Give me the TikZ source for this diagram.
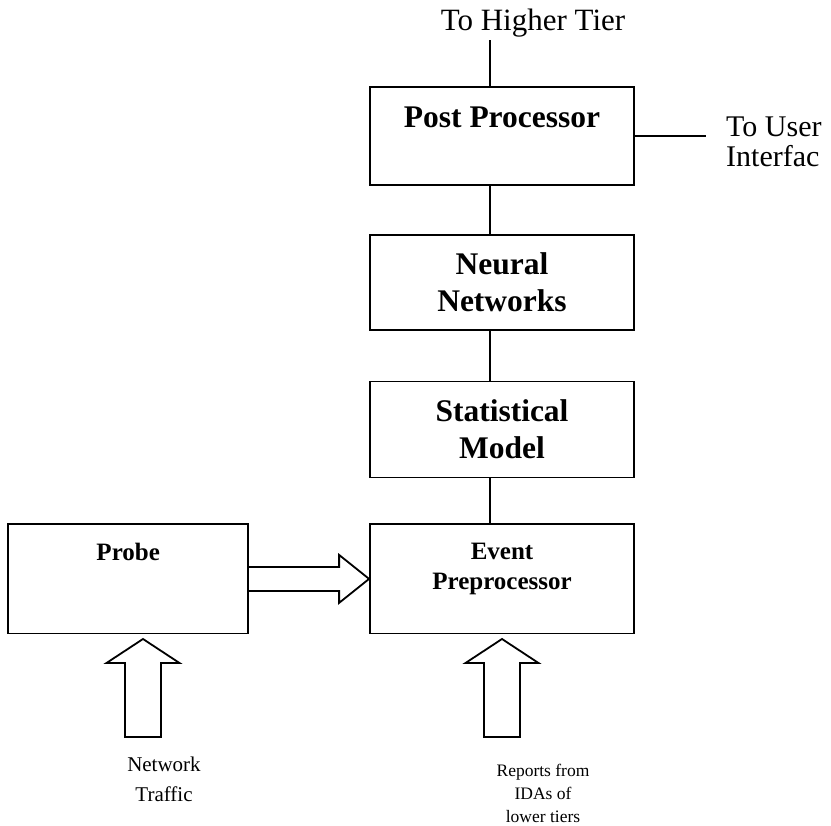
\documentclass[tikz,border=0pt]{standalone}
\usepackage{fontspec}
\setmainfont{Liberation Serif}
\usetikzlibrary{positioning}
\tikzset{
  block/.style={
    draw,
    line width=1.8pt,
    minimum width=264pt,
    minimum height={#1},
    inner sep=0pt,
    align=center,
    font=\fontsize{31.5}{37}\bfseries\selectfont,
  },
  title/.style={
    inner sep=0pt,
    align=center,
    font=\fontsize{#1}{30}\bfseries\selectfont,
  },
  caption/.style 2 args={
    inner sep=0pt,
    align=center,
    font=\fontsize{#1}{#2}\selectfont,
  },
  link/.style={line width=1.8pt},
  fat/.style={line width=1.8pt, line join=miter},
}

\begin{document}
\begin{tikzpicture}[x=1pt, y=-1pt, node distance=48pt]
        \useasboundingbox (0,0) rectangle (831,826);

        \node [block=98pt] (post) at (502,136) {};
        \node [block=95pt, below=of post] (neural) {Neural\\Networks};
        \node [block=96pt, below=50pt of neural] (stat) {Statistical\\Model};
        \node [block=109pt, below=45pt of stat] (event) {};
        \node [block=109pt, minimum width=240pt, left=120pt of event] (probe) {};

        \node [title=31.5, below=21pt of post.north] (posttext) {Post Processor};
        \node [title=25, below=19.5pt of probe.north] (probetext) {Probe};
        \node [title=25, below=19.5pt of event.north] (eventtext) {Event\\Preprocessor};

        \node [caption={31}{36}, anchor=base] (higher) at (533,31) {To Higher Tier};
        \node [caption={30}{30}, anchor=north west, align=left] (user) at (726,117) {To User\\Interfac};
        \node [caption={21}{30}, anchor=north] (traffic) at (164,757) {Network\\Traffic};
        \node [caption={17.5}{23}, anchor=north] (reports) at (543,764) {Reports from\\IDAs of\\lower tiers};

        \coordinate (topend) at (490,40);
        \coordinate (userend) at (706,136);
        \coordinate (traffictip) at (143,639);
        \coordinate (reportstip) at (502,639);

        \draw [link] ([xshift=-12pt]post.north) -- (topend);
        \draw [link] (post.east) -- (userend);
        \draw [link] ([xshift=-12pt]post.south) -- ([xshift=-12pt]neural.north);
        \draw [link] ([xshift=-12pt]neural.south) -- ([xshift=-12pt]stat.north);
        \draw [link] ([xshift=-12pt]stat.south) -- ([xshift=-12pt]event.north);

        \draw [fat] ([yshift=12pt]probe.east) -- ++(90,0) -- ++(0,-12) -- (event.west)
              -- ++(-30,24) -- ++(0,-12) -- ([yshift=-12pt]probe.east);
        \foreach \tip in {traffictip, reportstip}
          \draw [fat] (\tip) -- ++(36.5,24) -- ++(-18.5,0) -- ++(0,74) -- ++(-36,0)
                -- ++(0,-74) -- ++(-18.5,0) -- cycle;
      \end{tikzpicture}
\end{document}
